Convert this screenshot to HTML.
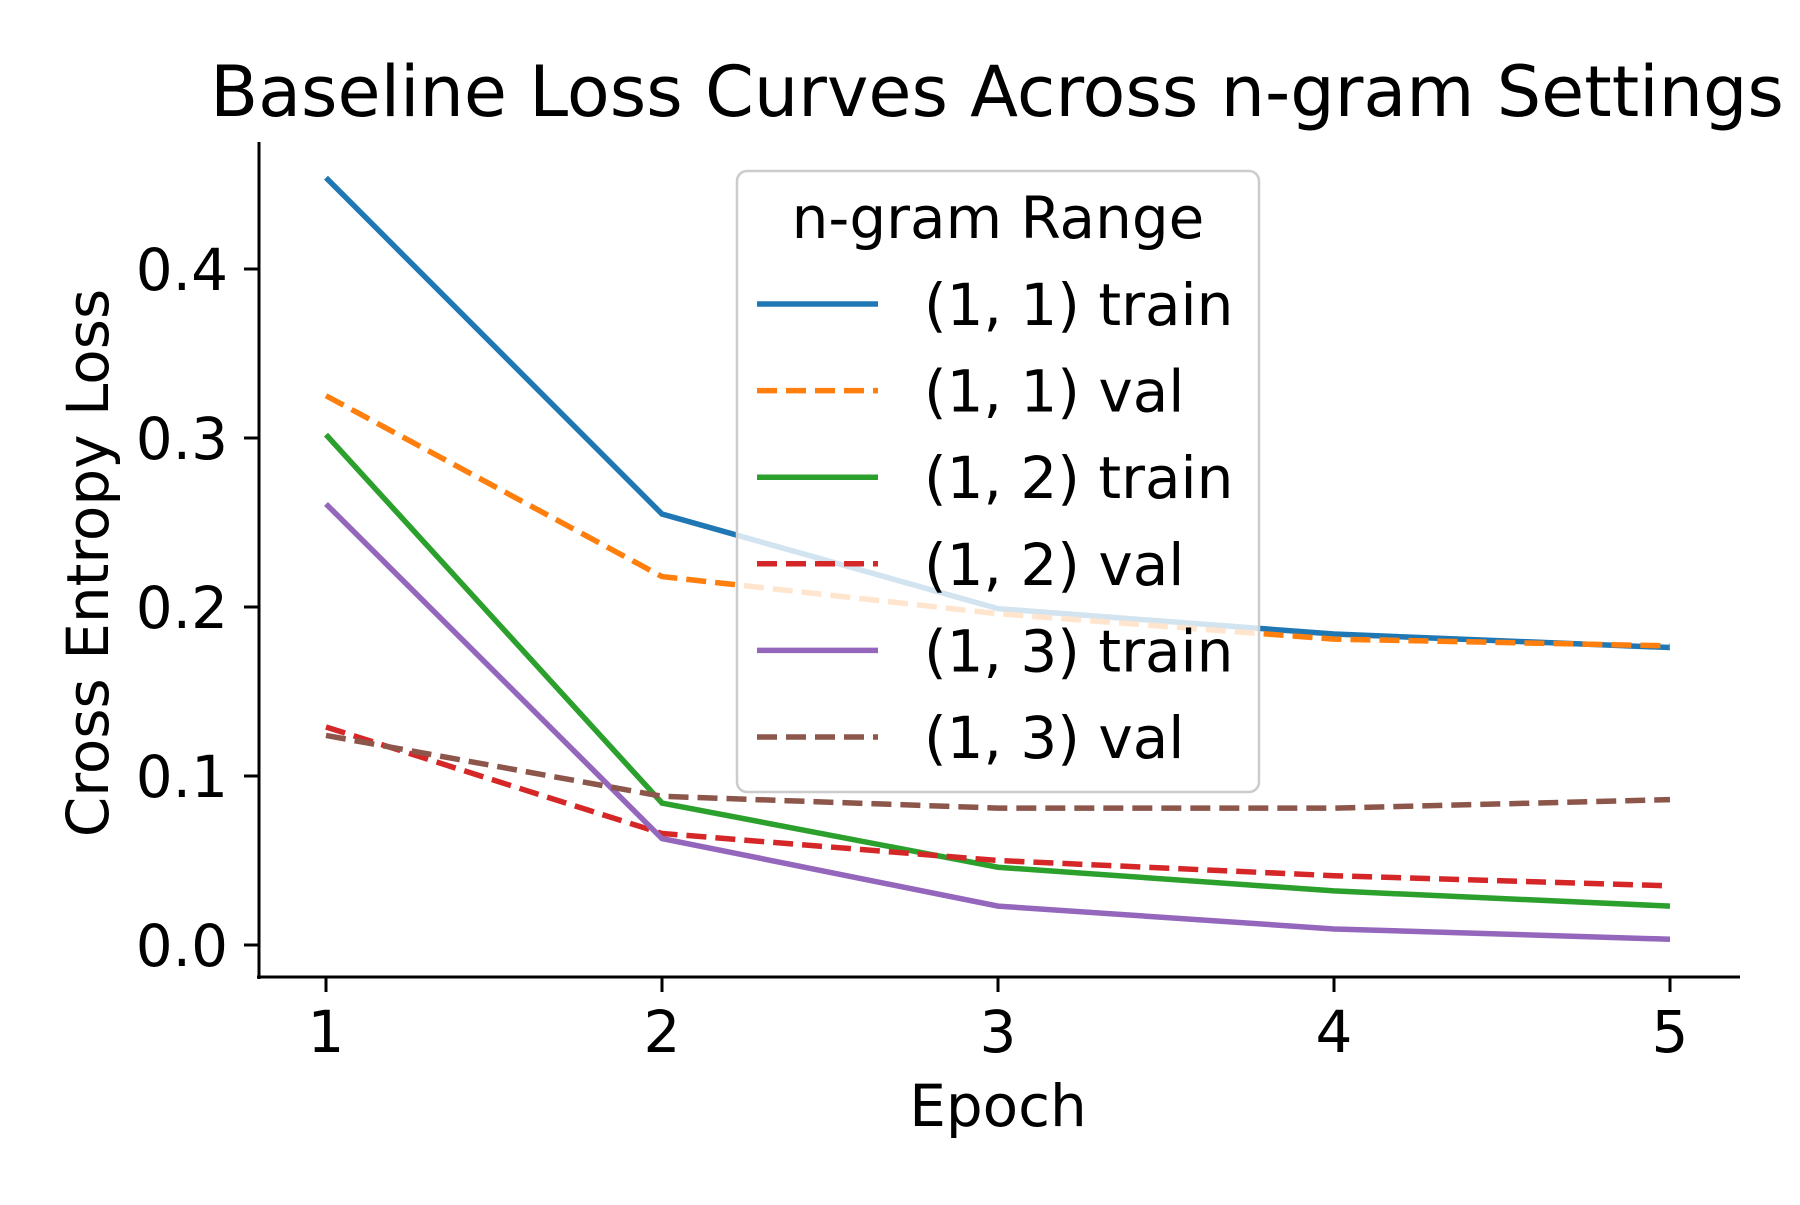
<!DOCTYPE html>
<html><head><meta charset="utf-8"><style>
html,body{margin:0;padding:0;background:#fff;}
svg text{font-family:"DejaVu Sans","Liberation Sans",sans-serif;fill:#000;}
</style></head><body>
<svg id="chart" width="1800" height="1200" viewBox="0 0 1800 1200" xmlns="http://www.w3.org/2000/svg">
<text x="997" y="116" font-size="70" text-anchor="middle">Baseline Loss Curves Across n-gram Settings</text>
<g id="plot"></g>
<text x="998" y="1126" font-size="58" text-anchor="middle">Epoch</text>
<text transform="translate(108,563) rotate(-90)" font-size="58" text-anchor="middle">Cross Entropy Loss</text>
<g id="legend"></g>
</svg>
<script>
const epochs = [1, 2, 3, 4, 5];
const yTicks = [0.0, 0.1, 0.2, 0.3, 0.4];
const seriesNames = ["(1, 1) train", "(1, 1) val", "(1, 2) train", "(1, 2) val", "(1, 3) train", "(1, 3) val"];
const train11 = [0.454, 0.255, 0.199, 0.184, 0.176];
const val11 = [0.325, 0.218, 0.196, 0.181, 0.177];
const train12 = [0.302, 0.084, 0.046, 0.032, 0.023];
const val12 = [0.129, 0.066, 0.050, 0.041, 0.035];
const train13 = [0.261, 0.063, 0.023, 0.0095, 0.0034];
const val13 = [0.124, 0.088, 0.081, 0.081, 0.086];
const seriesValues = [train11, val11, train12, val12, train13, val13];
const colors = ["#1f77b4", "#ff7f0e", "#2ca02c", "#d62728", "#9467bd", "#8c564b"];
const dashed = [false, true, false, true, false, true];

const NS = "http://www.w3.org/2000/svg";
const X0 = 326, XS = 336, Y0 = 945, YS = 1690;
function xScale(e){ return X0 + (e - 1) * XS; }
function yScale(v){ return Y0 - v * YS; }
function mk(tag, attrs, parent){
  const el = document.createElementNS(NS, tag);
  for (const k in attrs) el.setAttribute(k, attrs[k]);
  parent.appendChild(el); return el;
}
const plot = document.getElementById('plot');
let ax = mk('line', {x1:259, y1:142, x2:259, y2:979, stroke:'#000', 'stroke-width':3}, plot);


let bx = mk('line', {x1:257, y1:977, x2:1740, y2:977, stroke:'#000', 'stroke-width':3}, plot);


yTicks.forEach(t => {
  const y = yScale(t);
  const tk = mk('line', {x1:244, y1:y, x2:259, y2:y, stroke:'#000', 'stroke-width':3}, plot);
  
  
  const tl = mk('text', {x:228, y:y + 21, 'font-size':58, 'text-anchor':'end'}, plot);
  tl.textContent = t.toFixed(1);
  
  
});
epochs.forEach(e => {
  const x = xScale(e);
  const tk = mk('line', {x1:x, y1:977, x2:x, y2:992, stroke:'#000', 'stroke-width':3}, plot);
  
  
  const tl = mk('text', {x:x, y:1052, 'font-size':58, 'text-anchor':'middle'}, plot);
  tl.textContent = String(e);
  
  
});
seriesValues.forEach((vals, i) => {
  const pts = vals.map((v, j) => xScale(epochs[j]) + ',' + yScale(v)).join(' ');
  const pl = mk('polyline', {points:pts, fill:'none', stroke:colors[i], 'stroke-width':5.5}, plot);
  if (dashed[i]) pl.setAttribute('stroke-dasharray', '20,9');
  
  
});
const lg = document.getElementById('legend');
const box = mk('rect', {x:737, y:171, width:522, height:621, rx:10, fill:'rgba(255,255,255,0.8)', stroke:'#cccccc', 'stroke-width':2.5}, lg);


const lt = mk('text', {x:998, y:238, 'font-size':58, 'text-anchor':'middle'}, lg);
lt.textContent = 'n-gram Range';


seriesNames.forEach((n, i) => {
  const y = 304 + i * 86.6;
  const ln = mk('line', {x1:757, y1:y, x2:878, y2:y, stroke:colors[i], 'stroke-width':5.5}, lg);
  if (dashed[i]) ln.setAttribute('stroke-dasharray', '20,9');
  
  
  const tx = mk('text', {x:924, y:y + 21, 'font-size':58}, lg);
  tx.textContent = n;
  
  
});
</script>
</body></html>
